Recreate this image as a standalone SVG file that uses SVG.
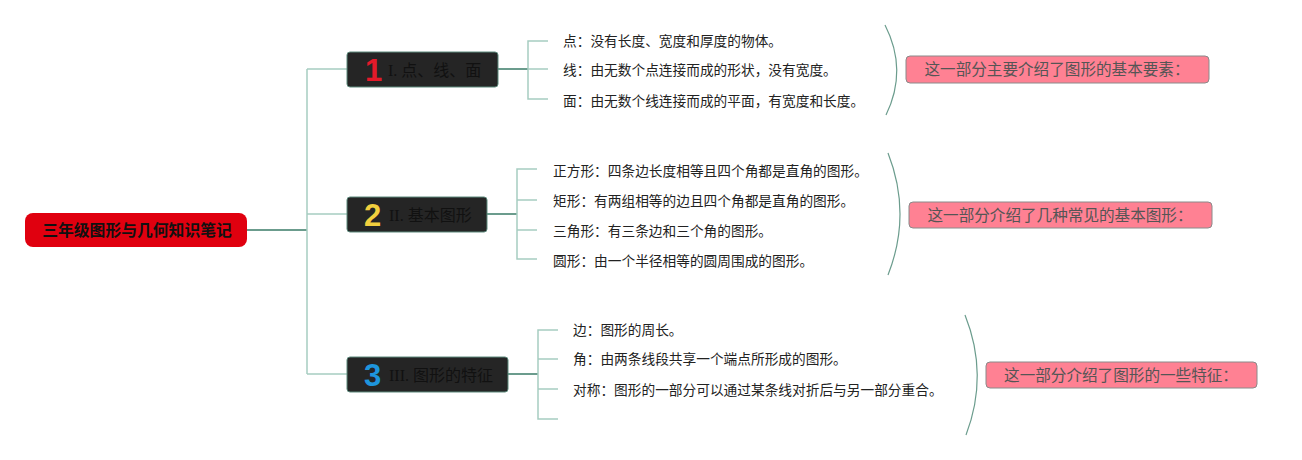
<svg xmlns="http://www.w3.org/2000/svg" width="1302" height="460" viewBox="0 0 1302 460">
<style>
.spine{stroke:#a6cdc1;stroke-width:1.5;fill:none}
.dark{stroke:#6b9c8d;stroke-width:2;fill:none}
.brace{stroke:#6b9c8d;stroke-width:1.2;fill:none}
.branch{fill:#252525;stroke:#5d8a7c;stroke-width:1}
.btxt{font-family:"Liberation Serif","Noto Sans CJK SC",serif;font-size:16px;fill:#111}
.num{font-family:"Liberation Sans","Noto Sans",sans-serif;font-weight:bold;font-size:31px}
.leaf{font-family:"Noto Sans CJK SC","Liberation Sans",sans-serif;font-size:13.7px;fill:#222}
.sum{fill:#ff8193;stroke:#8a8a8a;stroke-width:1}
.stxt{font-family:"Noto Sans CJK SC","Liberation Sans",sans-serif;font-size:15.6px;fill:#555}
</style>
<rect width="1302" height="460" fill="#ffffff"/>
<g id="connectors">
<path class="dark" d="M247 230 H307"/>
<path class="spine" d="M307 69 V374 M307 69 H347 M307 214 H347 M307 374 H347"/>
<path class="dark" d="M498 69 H528 M487 214 H517 M508 374 H538"/>
<path class="spine" d="M548 41 H528 V99 H548 M528 69 H548"/>
<path class="spine" d="M537 169 H517 V259 H537 M517 200 H537 M517 230 H537"/>
<path class="spine" d="M558 330 H538 V419 H558 M538 359 H558 M538 389 H558"/>
<path class="brace" d="M885 25 Q908 70 886 115"/>
<path class="brace" d="M888 153 Q912 214 888 275"/>
<path class="brace" d="M965 315 Q989 375 966 435"/>
</g>
<g id="root">
<rect x="25" y="213" width="222" height="34" rx="8" fill="#e0000f"/>
<text x="137" y="235.5" text-anchor="middle" font-family="Noto Sans CJK SC,Liberation Sans,sans-serif" font-size="15.8" font-weight="bold" fill="#111">三年级图形与几何知识笔记</text>
</g>
<g id="branch1">
<rect class="branch" x="347" y="52" width="151" height="35" rx="3"/>
<text class="num" x="365" y="81" fill="#e31a2a">1</text>
<text class="btxt" x="388" y="75.5">I. 点、线、面</text>
</g>
<g id="branch2">
<rect class="branch" x="347" y="197" width="140" height="35" rx="3"/>
<text class="num" x="364" y="226" fill="#f2cf3e">2</text>
<text class="btxt" x="389" y="220.5">II. 基本图形</text>
</g>
<g id="branch3">
<rect class="branch" x="347" y="357" width="161" height="35" rx="3"/>
<text class="num" x="364" y="386" fill="#1e95dc">3</text>
<text class="btxt" x="389" y="380.5">III. 图形的特征</text>
</g>
<g id="leaves1">
<text class="leaf" x="563" y="46">点：没有长度、宽度和厚度的物体。</text>
<text class="leaf" x="563" y="75">线：由无数个点连接而成的形状，没有宽度。</text>
<text class="leaf" x="563" y="106">面：由无数个线连接而成的平面，有宽度和长度。</text>
</g>
<g id="leaves2">
<text class="leaf" x="553" y="176">正方形：四条边长度相等且四个角都是直角的图形。</text>
<text class="leaf" x="553" y="206">矩形：有两组相等的边且四个角都是直角的图形。</text>
<text class="leaf" x="553" y="236">三角形：有三条边和三个角的图形。</text>
<text class="leaf" x="553" y="266">圆形：由一个半径相等的圆周围成的图形。</text>
</g>
<g id="leaves3">
<text class="leaf" x="573" y="335">边：图形的周长。</text>
<text class="leaf" x="573" y="364">角：由两条线段共享一个端点所形成的图形。</text>
<text class="leaf" x="573" y="395">对称：图形的一部分可以通过某条线对折后与另一部分重合。</text>
</g>
<g id="summary1">
<rect class="sum" x="906" y="56" width="303" height="27" rx="4"/>
<text class="stxt" x="1057" y="75" text-anchor="middle">这一部分主要介绍了图形的基本要素：</text>
</g>
<g id="summary2">
<rect class="sum" x="909" y="202" width="303" height="26" rx="4"/>
<text class="stxt" x="1060" y="220.5" text-anchor="middle">这一部分介绍了几种常见的基本图形：</text>
</g>
<g id="summary3">
<rect class="sum" x="986" y="362" width="271" height="26" rx="4"/>
<text class="stxt" x="1121" y="380.5" text-anchor="middle">这一部分介绍了图形的一些特征：</text>
</g>
</svg>
